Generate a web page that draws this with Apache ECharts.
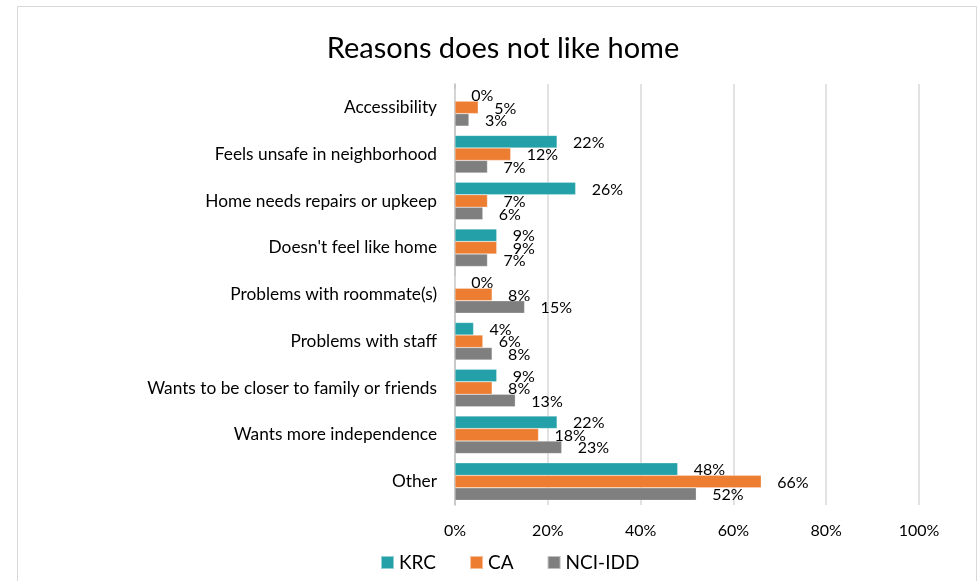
<!DOCTYPE html>
<html>
<head>
<meta charset="utf-8">
<script src="https://cdn.jsdelivr.net/npm/echarts@6/dist/echarts.min.js"></script>
<style>html,body{margin:0;padding:0;background:#fff}#c{width:978px;height:581px}</style>
</head>
<body>
<div id="c"></div>
<script>
const categories = ["Accessibility","Feels unsafe in neighborhood","Home needs repairs or upkeep","Doesn't feel like home","Problems with roommate(s)","Problems with staff","Wants to be closer to family or friends","Wants more independence","Other"];
const seriesNames = ["KRC","CA","NCI-IDD"];
const krc = [0,22,26,9,0,4,9,22,48];
const ca = [5,12,7,9,8,6,8,18,66];
const nci = [3,7,6,7,15,8,13,23,52];
const xTicks = [0,20,40,60,80,100];
const colors = ["#23a0a8","#ed7d31","#7f7f7f"];
const FONT = "Lato";

const chart = echarts.init(document.getElementById('c'), null, {renderer:'canvas'});
function mk(name, data, color){
  return {
    name, type:'bar', data, barWidth:12.5, barGap:'0%',
    itemStyle:{color, borderColor:'rgba(255,255,255,0.5)', borderWidth:0.5},
    label:{show:true, position:'right', distance:16, offset:[0,1], formatter:'{c}%', color:'#000', fontFamily:FONT, fontSize:16},
    emphasis:{disabled:true}, animation:false
  };
}
chart.setOption({
  animation:false,
  backgroundColor:'#fff',
  textStyle:{fontFamily:FONT},
  graphic:[{type:'rect', shape:{x:17.5,y:6.5,width:959,height:600}, style:{fill:'none',stroke:'#d9d9d9',lineWidth:1}, silent:true}],
  title:{text:'Reasons does not like home', left:498, textAlign:'center', top:29, textStyle:{fontFamily:FONT, fontSize:29, fontWeight:'normal', color:'#000'}},
  legend:{data:seriesNames, left:375, top:548, icon:'rect', itemWidth:13, itemHeight:13, itemGap:33, textStyle:{fontFamily:FONT, fontSize:19, color:'#000'}},
  grid:{left:455, right:59, top:84, bottom:76, containLabel:false},
  xAxis:{type:'value', min:xTicks[0], max:xTicks[xTicks.length-1], interval:20,
    axisLabel:{formatter:'{value}%', fontFamily:FONT, fontSize:16, color:'#000', margin:18},
    axisLine:{show:false}, axisTick:{show:false},
    splitLine:{lineStyle:{color:'#d9d9d9', width:1.5}}},
  yAxis:{type:'category', data:categories, inverse:true,
    axisLine:{lineStyle:{color:'#bfbfbf', width:1.5}},
    axisTick:{length:6, lineStyle:{color:'#bfbfbf', width:1.5}},
    axisLabel:{fontFamily:FONT, fontSize:17.3, color:'#000', margin:18}},
  series:[mk(seriesNames[0],krc,colors[0]), mk(seriesNames[1],ca,colors[1]), mk(seriesNames[2],nci,colors[2])]
});
</script>
</body>
</html>
